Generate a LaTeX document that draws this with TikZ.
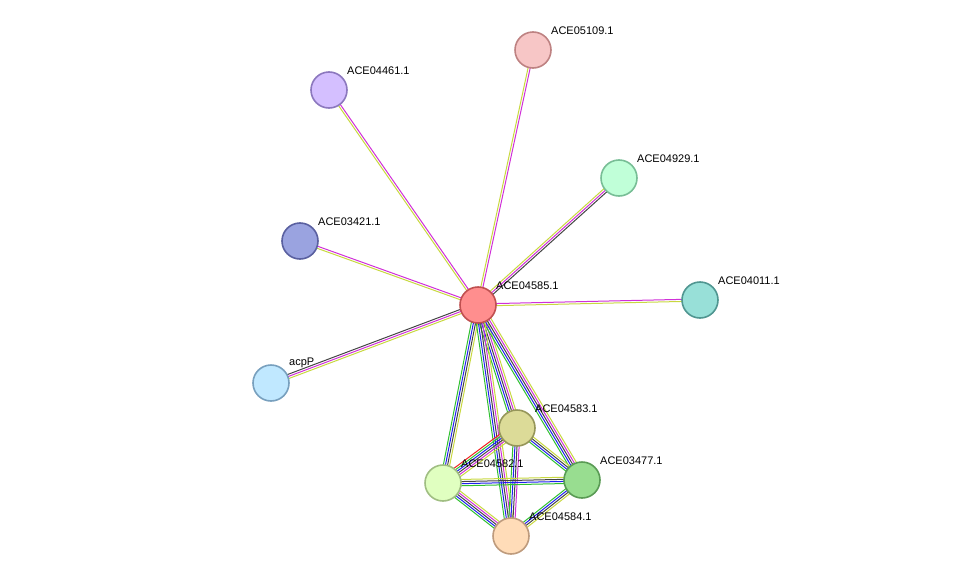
\documentclass[tikz,border=0pt]{standalone}
\usepackage{fontspec}
\setmainfont{Liberation Sans}
\usetikzlibrary{calc,positioning}
\definecolor{eyel}{HTML}{C8D840}
\definecolor{emag}{HTML}{D030D8}
\definecolor{egrn}{HTML}{30C030}
\definecolor{eblu}{HTML}{2020F0}
\definecolor{eblk}{HTML}{444444}
\definecolor{ered}{HTML}{F02020}
\tikzset{
  prot/.style={circle,draw,line width=1.6pt,minimum size=36pt,inner sep=0pt},
  lbl/.style={anchor=south west,inner sep=0pt,font=\fontsize{11}{12}\selectfont},
}
% edge: #1 from, #2 to, #3 colour list
\newcommand{\edge}[3]{%
  \foreach \c [count=\i] in {#3} {\global\let\nc\i}%
  \foreach \c [count=\i] in {#3} {%
    \pgfmathsetmacro{\o}{(\i-(\nc+1)/2)*2.1}
    \draw[\c,line width=1pt] ($(#1)!\o pt!90:(#2)$) -- ($(#2)!\o pt!-90:(#1)$);
  }}
\begin{document}
\begin{tikzpicture}[x=1pt,y=-1pt]
  \useasboundingbox (0,0) rectangle (975,581);
  \coordinate (c85) at (478,305);
  \coordinate (c09) at (533,50);
  \coordinate (c61) at (329,90);
  \coordinate (c29) at (619,178);
  \coordinate (c21) at (300,241);
  \coordinate (c11) at (700,300);
  \coordinate (cac) at (271,383);
  \coordinate (c83) at (517,428);
  \coordinate (c82) at (443,483);
  \coordinate (c77) at (582,480);
  \coordinate (c84) at (511,536);

  \edge{c85}{c09}{emag,eyel}
  \edge{c85}{c61}{emag,eyel}
  \edge{c85}{c29}{eblk,emag,eyel}
  \edge{c85}{c21}{emag,eyel}
  \edge{c85}{c11}{eyel,emag}
  \edge{c85}{cac}{eblk,emag,eyel}
  \edge{c85}{c83}{egrn,eblu,eblk,emag,eyel}
  \edge{c85}{c82}{egrn,eblu,eblk,eyel}
  \edge{c85}{c77}{egrn,eblu,eblk,emag,eyel}
  \edge{c85}{c84}{egrn,eblu,eblk,emag,eyel}
  \edge{c83}{c82}{ered,egrn,eblu,eblk,emag,eyel}
  \edge{c83}{c77}{egrn,eblu,eblk,eyel}
  \edge{c83}{c84}{egrn,eblu,eblk,emag}
  \edge{c82}{c77}{egrn,eblu,eblk,eyel}
  \edge{c82}{c84}{egrn,eblu,eblk,emag,eyel}
  \edge{c77}{c84}{egrn,eblu,eblk,eyel}

  \node[prot,fill={rgb,255:red,255;green,142;blue,142},draw={rgb,255:red,192;green,80;blue,80}] (n85) at (c85) {};
  \node[prot,fill={rgb,255:red,247;green,198;blue,198},draw={rgb,255:red,190;green,130;blue,130}] (n09) at (c09) {};
  \node[prot,fill={rgb,255:red,212;green,191;blue,255},draw={rgb,255:red,140;green,120;blue,190}] (n61) at (c61) {};
  \node[prot,fill={rgb,255:red,192;green,255;blue,216},draw={rgb,255:red,120;green,190;blue,150}] (n29) at (c29) {};
  \node[prot,fill={rgb,255:red,154;green,163;blue,224},draw={rgb,255:red,90;green,96;blue,160}] (n21) at (c21) {};
  \node[prot,fill={rgb,255:red,152;green,224;blue,216},draw={rgb,255:red,80;green,150;blue,145}] (n11) at (c11) {};
  \node[prot,fill={rgb,255:red,192;green,232;blue,255},draw={rgb,255:red,120;green,160;blue,190}] (nac) at (cac) {};
  \node[prot,fill={rgb,255:red,220;green,219;blue,152},draw={rgb,255:red,150;green,150;blue,90}] (n83) at (c83) {};
  \node[prot,fill={rgb,255:red,224;green,255;blue,192},draw={rgb,255:red,160;green,190;blue,130}] (n82) at (c82) {};
  \node[prot,fill={rgb,255:red,152;green,221;blue,144},draw={rgb,255:red,90;green,155;blue,85}] (n77) at (c77) {};
  \node[prot,fill={rgb,255:red,255;green,220;blue,184},draw={rgb,255:red,190;green,155;blue,125}] (n84) at (c84) {};

  \node[lbl] at ($(c85)+(18,-15)$) {ACE04585.1};
  \node[lbl] at ($(c09)+(18,-15)$) {ACE05109.1};
  \node[lbl] at ($(c61)+(18,-15)$) {ACE04461.1};
  \node[lbl] at ($(c29)+(18,-15)$) {ACE04929.1};
  \node[lbl] at ($(c21)+(18,-15)$) {ACE03421.1};
  \node[lbl] at ($(c11)+(18,-15)$) {ACE04011.1};
  \node[lbl] at ($(cac)+(18,-15)$) {acpP};
  \node[lbl] at ($(c83)+(18,-15)$) {ACE04583.1};
  \node[lbl] at ($(c82)+(18,-15)$) {ACE04582.1};
  \node[lbl] at ($(c77)+(18,-15)$) {ACE03477.1};
  \node[lbl] at ($(c84)+(18,-15)$) {ACE04584.1};
\end{tikzpicture}
\end{document}
